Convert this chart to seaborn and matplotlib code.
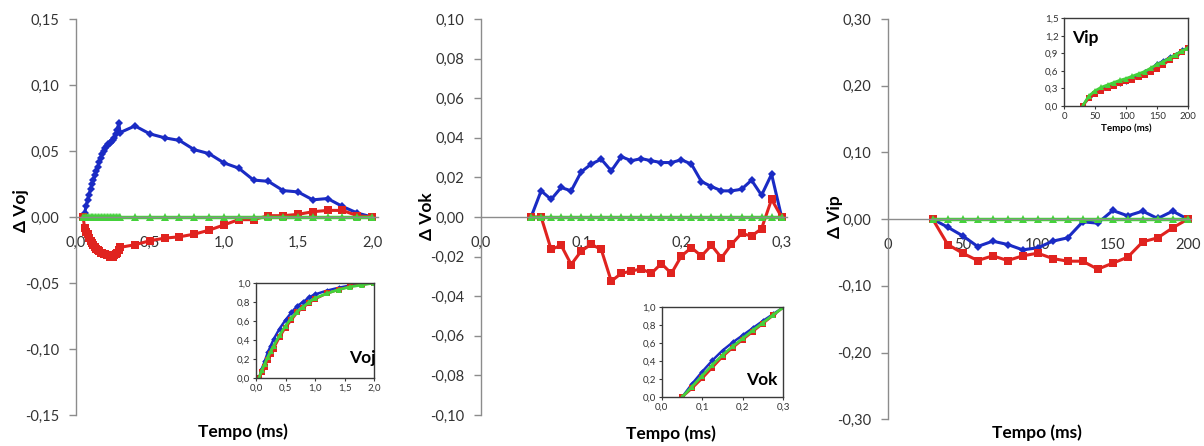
import numpy as np
import matplotlib
matplotlib.use("Agg")
import matplotlib.pyplot as plt
import seaborn as sns
from matplotlib.ticker import FuncFormatter

# ---------------- data ----------------
# Voj: dense sampling on the rising phase, then every 0.1 ms
t_oj = [0.05, 0.06, 0.07, 0.08, 0.09, 0.10, 0.11, 0.12, 0.13, 0.14, 0.15, 0.16, 0.17,
        0.18, 0.19, 0.20, 0.21, 0.22, 0.23, 0.24, 0.25, 0.26, 0.27, 0.28, 0.29, 0.30,
        0.4, 0.5, 0.6, 0.7, 0.8, 0.9, 1.0, 1.1, 1.2, 1.3, 1.4, 1.5, 1.6, 1.7, 1.8, 1.9, 2.0]
d_oj_blue = [0.000, 0.003, 0.008, 0.013, 0.017, 0.021, 0.025, 0.028, 0.032, 0.035, 0.038,
             0.042, 0.045, 0.048, 0.050, 0.052, 0.054, 0.055, 0.056, 0.057, 0.058, 0.060,
             0.063, 0.066, 0.071, 0.064,
             0.069, 0.063, 0.060, 0.058, 0.051, 0.048, 0.041, 0.037, 0.028, 0.027, 0.020,
             0.019, 0.013, 0.014, 0.008, 0.003, 0.000]
d_oj_red = [0.000, -0.008, -0.011, -0.013, -0.016, -0.018, -0.020, -0.021, -0.023, -0.024,
            -0.025, -0.026, -0.027, -0.027, -0.028, -0.028, -0.029, -0.029, -0.030, -0.030,
            -0.030, -0.029, -0.028, -0.027, -0.025, -0.023,
            -0.021, -0.018, -0.016, -0.015, -0.013, -0.010, -0.006, -0.002, -0.002, 0.001,
            0.001, 0.002, 0.004, 0.005, 0.005, 0.001, 0.000]
d_oj_green = [0.0] * len(t_oj)

# Vok: every 0.01 ms
t_ok = [0.05, 0.06, 0.07, 0.08, 0.09, 0.10, 0.11, 0.12, 0.13, 0.14, 0.15, 0.16, 0.17,
        0.18, 0.19, 0.20, 0.21, 0.22, 0.23, 0.24, 0.25, 0.26, 0.27, 0.28, 0.29, 0.30]
d_ok_blue = [0.0, 0.0132, 0.0089, 0.0149, 0.0132, 0.0228, 0.0267, 0.0292, 0.0233, 0.0305,
             0.0284, 0.0295, 0.0284, 0.0275, 0.0275, 0.0289, 0.0267, 0.0179, 0.0154, 0.0132,
             0.0132, 0.0140, 0.0186, 0.0110, 0.0216, 0.0]
d_ok_red = [0.0, 0.0, -0.0164, -0.0143, -0.0240, -0.0172, -0.0138, -0.0164, -0.0324, -0.0285,
            -0.0273, -0.0262, -0.0285, -0.0235, -0.0285, -0.0197, -0.0155, -0.0197, -0.0143,
            -0.0206, -0.0138, -0.0083, -0.0096, -0.0059, 0.0089, 0.0]
d_ok_green = [0.0] * len(t_ok)

# Vip: every 10 ms
t_ip = [30, 40, 50, 60, 70, 80, 90, 100, 110, 120, 130, 140, 150, 160, 170, 180, 190, 200]
d_ip_blue = [0.0, -0.012, -0.025, -0.041, -0.033, -0.038, -0.046, -0.043, -0.033, -0.028,
             -0.004, -0.006, 0.013, 0.005, 0.012, 0.001, 0.012, 0.0]
d_ip_red = [0.0, -0.038, -0.051, -0.062, -0.055, -0.062, -0.055, -0.051, -0.059, -0.063,
            -0.063, -0.075, -0.066, -0.057, -0.034, -0.028, -0.013, 0.0]
d_ip_green = [0.0] * len(t_ip)

# normalised transients shown in the small panels
n_oj_t = [0.05, 0.1, 0.15, 0.2, 0.25, 0.3, 0.4, 0.5, 0.6, 0.7, 0.8, 0.9, 1.0, 1.2, 1.4, 1.6, 1.8, 2.0]
n_oj_blue = [0.0, 0.10, 0.18, 0.27, 0.34, 0.41, 0.52, 0.61, 0.69, 0.76, 0.80, 0.85, 0.88, 0.92, 0.95, 0.975, 0.99, 1.0]
n_oj_red = [0.0, 0.06, 0.12, 0.19, 0.25, 0.31, 0.43, 0.53, 0.61, 0.69, 0.74, 0.79, 0.83, 0.89, 0.93, 0.965, 0.985, 1.0]
n_oj_green = [0.0, 0.08, 0.15, 0.22, 0.28, 0.34, 0.45, 0.55, 0.63, 0.70, 0.75, 0.80, 0.84, 0.89, 0.93, 0.96, 0.98, 1.0]

n_ok_t = [0.05, 0.075, 0.1, 0.125, 0.15, 0.175, 0.2, 0.225, 0.25, 0.275, 0.3]
n_ok_blue = [0.0, 0.15, 0.285, 0.41, 0.52, 0.61, 0.69, 0.77, 0.85, 0.925, 1.0]
n_ok_red = [0.0, 0.10, 0.21, 0.33, 0.45, 0.55, 0.64, 0.73, 0.82, 0.91, 1.0]
n_ok_green = [0.0, 0.12, 0.24, 0.36, 0.47, 0.565, 0.655, 0.745, 0.83, 0.915, 1.0]

n_ip_t = t_ip
n_ip_blue = [0.0, 0.16, 0.24, 0.28, 0.33, 0.36, 0.40, 0.43, 0.48, 0.52, 0.59, 0.64, 0.72, 0.77, 0.83, 0.88, 0.95, 1.0]
n_ip_red = [0.0, 0.13, 0.21, 0.26, 0.31, 0.34, 0.39, 0.42, 0.45, 0.49, 0.53, 0.58, 0.64, 0.70, 0.79, 0.85, 0.93, 1.0]
n_ip_green = [0.0, 0.17, 0.26, 0.32, 0.36, 0.40, 0.44, 0.47, 0.51, 0.55, 0.59, 0.65, 0.71, 0.76, 0.82, 0.88, 0.94, 1.0]

# ---------------- style ----------------
sns.set_theme(style="white")
plt.rcParams["font.family"] = ["Lato", "DejaVu Sans"]

BLUE = "#1a2bc4"
RED = "#e0231f"
GREEN = "#44d13a"
AXIS = "#8c8c8c"
TXT = "#333333"

W, H = 1204, 446
fig = plt.figure(figsize=(W / 100, H / 100), dpi=100)
fig.patch.set_facecolor("white")


def add_px(l, t, r, b):
    return fig.add_axes([l / W, 1 - b / H, (r - l) / W, (b - t) / H])


def comma(dec):
    def f(v, _):
        s = f"{v:.{dec}f}".replace(".", ",")
        if s.startswith("-") and float(s[1:].replace(",", ".")) == 0:
            s = s[1:]
        return s
    return FuncFormatter(f)


def draw_series(ax, x, blue, red, green, scale=1.0):
    sns.lineplot(x=x, y=blue, ax=ax, color=BLUE, marker="D", markersize=4.2 * scale,
                 markeredgewidth=0, linewidth=2.2 * scale, sort=False)
    sns.lineplot(x=x, y=red, ax=ax, color=RED, marker="s", markersize=5.5 * scale,
                 markeredgewidth=0, linewidth=2.2 * scale, sort=False)
    sns.lineplot(x=x, y=green, ax=ax, color=GREEN, marker="^", markersize=6 * scale,
                 markeredgewidth=0, linewidth=2.5 * scale, sort=False)


def style_main(ax, xlim, ylim, yticks, ydec, xticks, xdec):
    ax.set_xlim(*xlim)
    ax.set_ylim(*ylim)
    ax.patch.set_alpha(0)
    for s in ("top", "right"):
        ax.spines[s].set_visible(False)
    ax.spines["left"].set_color(AXIS)
    ax.spines["left"].set_linewidth(1)
    ax.spines["bottom"].set_position(("data", 0))
    ax.spines["bottom"].set_color(AXIS)
    ax.spines["bottom"].set_linewidth(1)
    ax.set_yticks(yticks)
    ax.set_xticks(xticks)
    ax.yaxis.set_major_formatter(comma(ydec))
    ax.xaxis.set_major_formatter(comma(xdec))
    ax.tick_params(axis="y", left=True, direction="out", length=5, width=1, color=AXIS,
                   pad=7, labelsize=10.5, labelcolor=TXT)
    ax.tick_params(axis="x", bottom=True, length=0, pad=13.5, labelsize=10.5, labelcolor=TXT)
    ax.set_xlabel("")
    ax.set_ylabel("")
    ax.grid(False)


def style_inset(ax, xlim, ylim, yticks, ydec, xticks, xdec):
    ax.set_xlim(*xlim)
    ax.set_ylim(*ylim)
    ax.set_facecolor("white")
    for s in ax.spines.values():
        s.set_visible(True)
        s.set_color("#3a3a3a")
        s.set_linewidth(1)
    ax.set_yticks(yticks)
    ax.set_xticks(xticks)
    ax.yaxis.set_major_formatter(comma(ydec))
    ax.xaxis.set_major_formatter(comma(xdec))
    ax.tick_params(axis="both", left=True, bottom=True, direction="out", length=2.5,
                   width=0.8, color="#3a3a3a", pad=1.5, labelsize=7, labelcolor=TXT)
    ax.set_xlabel("")
    ax.set_ylabel("")
    ax.grid(False)


# ---------------- Voj ----------------
ax1 = add_px(75.7, 19, 378, 415)
draw_series(ax1, t_oj, d_oj_blue, d_oj_red, d_oj_green)
style_main(ax1, (0, 2.04), (-0.15, 0.15), [-0.15, -0.10, -0.05, 0.0, 0.05, 0.10, 0.15], 2,
           [0.0, 0.5, 1.0, 1.5, 2.0], 1)

in1 = add_px(256, 283, 374, 378)
draw_series(in1, n_oj_t, n_oj_blue, n_oj_red, n_oj_green, scale=0.8)
style_inset(in1, (0, 2.0), (0, 1.0), [0.0, 0.2, 0.4, 0.6, 0.8, 1.0], 1,
            [0.0, 0.5, 1.0, 1.5, 2.0], 1)
fig.text(362 / W, 1 - 358 / H, "Voj", ha="center", va="center", fontsize=12.5,
         fontweight="bold", color="black")

# ---------------- Vok ----------------
ax2 = add_px(481, 19, 786.6, 415)
draw_series(ax2, t_ok, d_ok_blue, d_ok_red, d_ok_green)
style_main(ax2, (0, 0.305), (-0.10, 0.10),
           [-0.10, -0.08, -0.06, -0.04, -0.02, 0.0, 0.02, 0.04, 0.06, 0.08, 0.10], 2,
           [0.0, 0.1, 0.2, 0.3], 1)

in2 = add_px(661.7, 307.3, 783.3, 397.3)
draw_series(in2, n_ok_t, n_ok_blue, n_ok_red, n_ok_green, scale=0.8)
style_inset(in2, (0, 0.3), (0, 1.0), [0.0, 0.2, 0.4, 0.6, 0.8, 1.0], 1,
            [0.0, 0.1, 0.2, 0.3], 1)
fig.text(762 / W, 1 - 380 / H, "Vok", ha="center", va="center", fontsize=12.5,
         fontweight="bold", color="black")

# ---------------- Vip ----------------
ax3 = add_px(887.7, 19, 1190.7, 419.3)
draw_series(ax3, t_ip, d_ip_blue, d_ip_red, d_ip_green)
style_main(ax3, (0, 202), (-0.30, 0.30), [-0.30, -0.20, -0.10, 0.0, 0.10, 0.20, 0.30], 2,
           [0, 50, 100, 150, 200], 0)

in3 = add_px(1064, 18.3, 1188.3, 106)
draw_series(in3, n_ip_t, n_ip_blue, n_ip_red, n_ip_green, scale=0.8)
style_inset(in3, (0, 200), (0, 1.5), [0.0, 0.3, 0.6, 0.9, 1.2, 1.5], 1,
            [0, 50, 100, 150, 200], 0)
fig.text(1085 / W, 1 - 38 / H, "Vip", ha="center", va="center", fontsize=12.5,
         fontweight="bold", color="black")
fig.text(1126 / W, 1 - 128 / H, "Tempo (ms)", ha="center", va="center", fontsize=7,
         fontweight="bold", color="black")

# ---------------- axis titles ----------------
for (x, y, s) in [(21, 211, "Δ Voj"), (427, 216, "Δ Vok"), (835, 217, "Δ Vip")]:
    fig.text(x / W, 1 - y / H, s, rotation=90, ha="center", va="center", fontsize=12.5,
             fontweight="bold", color="black")
for (x, y) in [(243, 432), (671, 434), (1037, 433)]:
    fig.text(x / W, 1 - y / H, "Tempo (ms)", ha="center", va="center", fontsize=12.5,
             fontweight="bold", color="black")

fig.savefig("out.png", dpi=100, facecolor="white")
